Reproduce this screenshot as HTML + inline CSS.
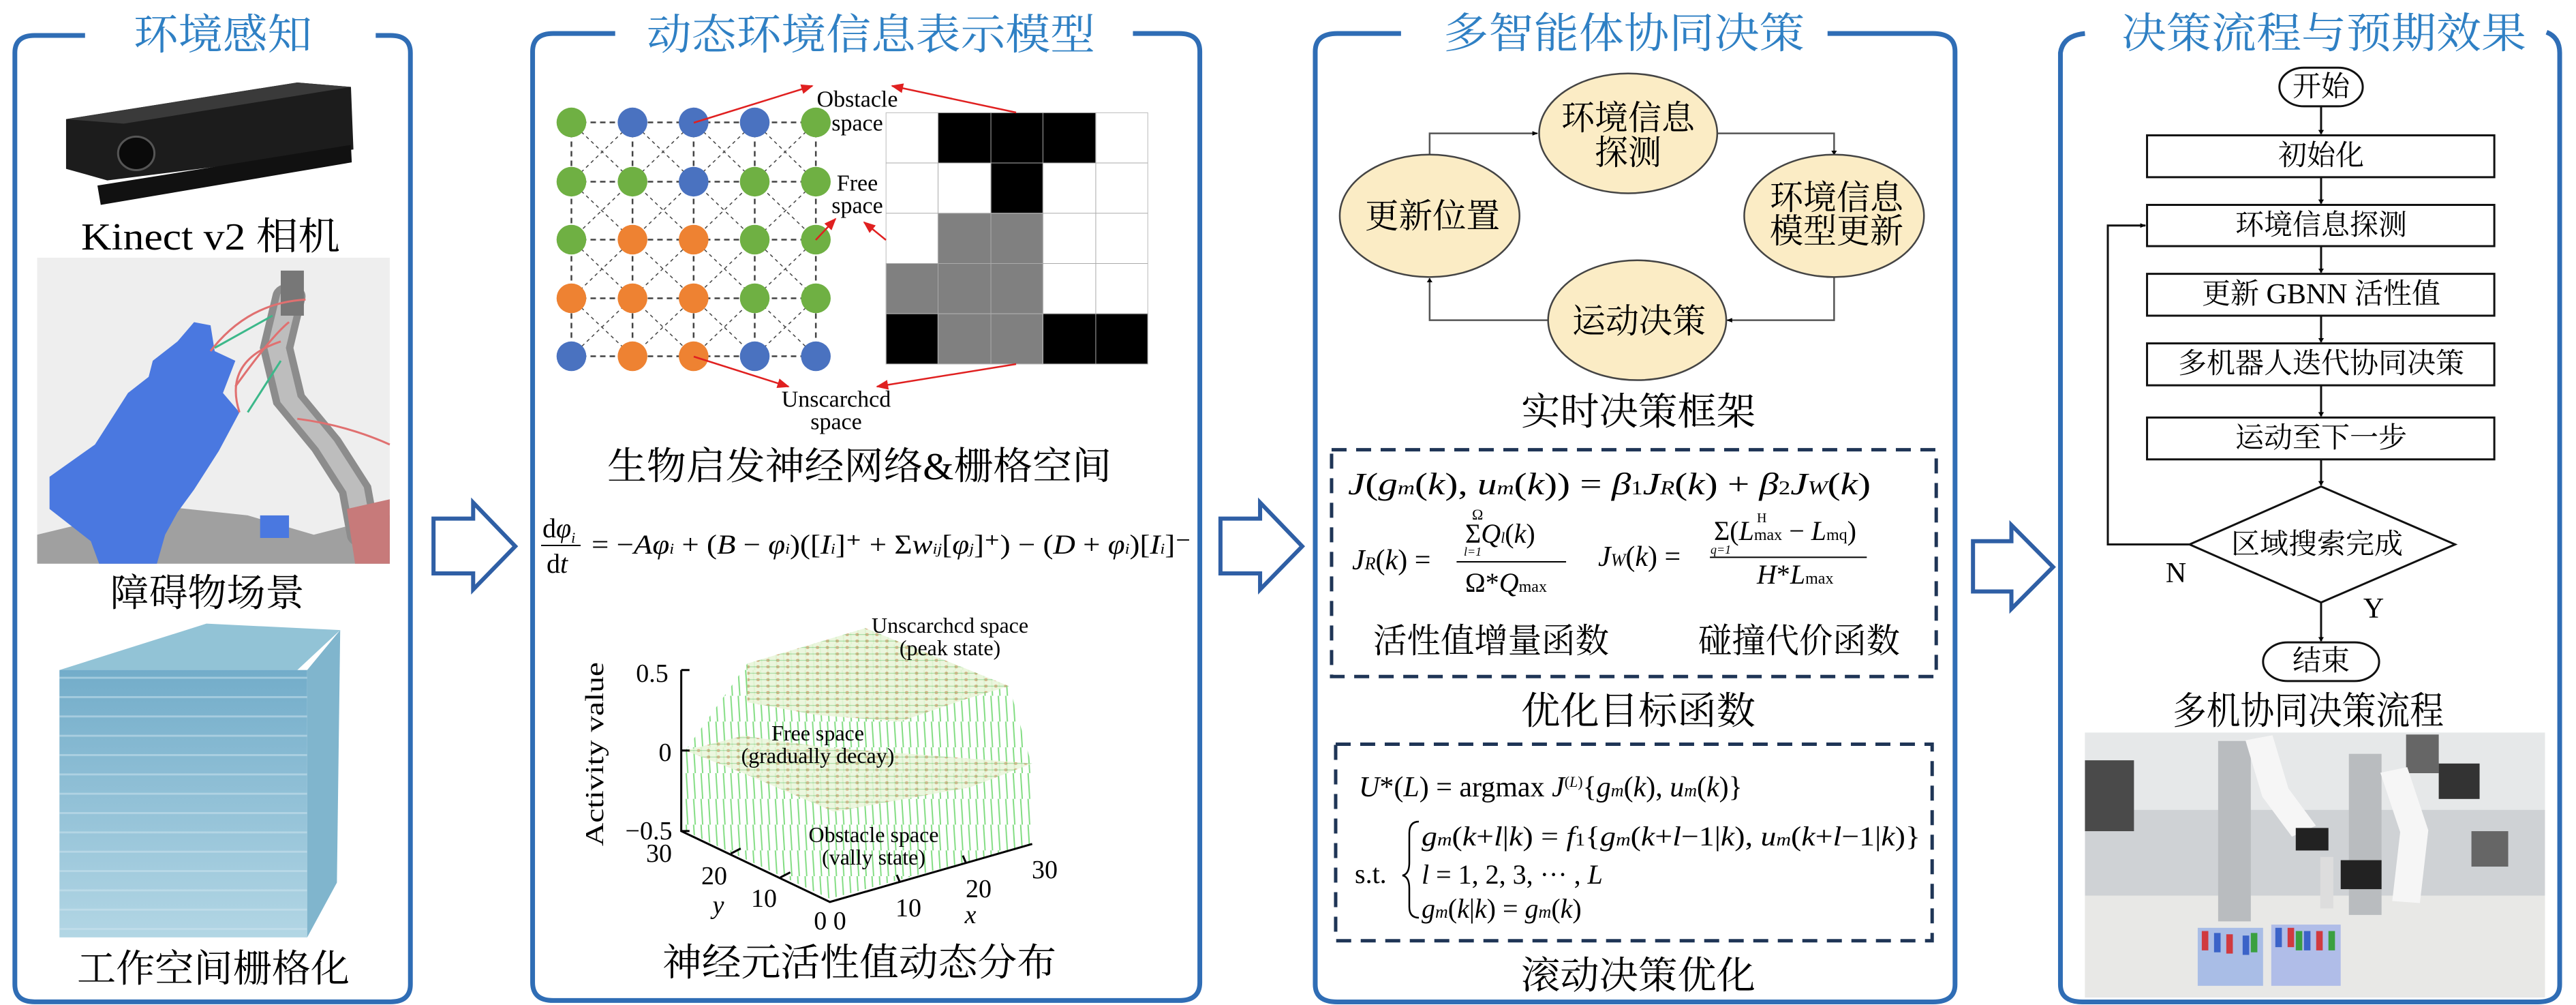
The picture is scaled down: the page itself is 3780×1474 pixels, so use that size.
<!DOCTYPE html>
<html><head><meta charset="utf-8"><style>
html,body{margin:0;padding:0;background:#fff;}
svg{display:block;}
.cn{font-family:"Liberation Serif","Noto Serif CJK SC",serif;}
.t{font-family:"Liberation Serif","Noto Serif CJK SC",serif;fill:#2f80c4;}
.m{font-family:"Liberation Serif",serif;font-style:italic;}
.r{font-family:"Liberation Serif",serif;}
</style></head><body>
<svg width="3780" height="1474" viewBox="0 0 3780 1474" xmlns="http://www.w3.org/2000/svg">
<defs>
<marker id="ab" viewBox="0 0 10 10" refX="9" refY="5" markerWidth="7" markerHeight="7" orient="auto" markerUnits="userSpaceOnUse"><path d="M0,0 L10,5 L0,10 z" fill="#000"/></marker>
<marker id="ar" viewBox="0 0 10 10" refX="9" refY="5" markerWidth="18" markerHeight="18" orient="auto" markerUnits="userSpaceOnUse"><path d="M0,1 L10,5 L0,9 z" fill="#e02020"/></marker>
<pattern id="vl" width="9" height="40" patternUnits="userSpaceOnUse"><line x1="3" y1="0" x2="5" y2="40" stroke="#7fdc7f" stroke-width="1.6"/></pattern>
<pattern id="dots" width="12" height="10" patternUnits="userSpaceOnUse"><rect width="12" height="10" fill="#e9f5d9"/><circle cx="6" cy="5" r="2.2" fill="#d9a070"/><line x1="0" y1="5" x2="12" y2="5" stroke="#8ad08a" stroke-width="1"/></pattern>
<linearGradient id="cube" x1="0" y1="0" x2="0" y2="1"><stop offset="0" stop-color="#5a9ec0"/><stop offset="1" stop-color="#a5cfe0"/></linearGradient>
<pattern id="cstripe" width="20" height="30" patternUnits="userSpaceOnUse"><line x1="0" y1="2" x2="20" y2="2" stroke="#cfe6ef" stroke-width="3" opacity="0.5"/></pattern>
</defs>

<g transform="scale(1.2117,0.9449)">
  <g fill="none" stroke="#2f6db5" stroke-width="7">
    <path vector-effect="non-scaling-stroke" d="M103,55 H42 Q18,55 18,82 V1528 Q18,1555 42,1555 H473 Q497,1555 497,1528 V82 Q497,55 473,55 H455"/>
    <path vector-effect="non-scaling-stroke" d="M745,52 H670 Q645,52 645,80 V1525 Q645,1553 670,1553 H1428 Q1453,1553 1453,1525 V80 Q1453,52 1428,52 H1372"/>
  </g>
  <g fill="#fff" stroke="#2f5fa5" stroke-width="6">
    <polygon vector-effect="non-scaling-stroke" points="525,805 573,805 573,780 624,848 573,915 573,890 525,890"/>
    <polygon vector-effect="non-scaling-stroke" points="1478,805 1526,805 1526,780 1577,848 1526,915 1526,890 1478,890"/>
  </g>
  <polygon points="80,185 360,128 425,135 428,232 130,280 80,262" fill="#1c1c1c"/>
  <polygon points="80,185 360,128 425,135 150,192" fill="#3a3a3a"/>
  <ellipse cx="165" cy="238" rx="22" ry="26" fill="#0a0a0a" stroke="#555" stroke-width="3" vector-effect="non-scaling-stroke"/>
  <polygon points="118,288 425,225 426,252 122,318" fill="#111"/>
  <rect x="45" y="400" width="427" height="475" fill="#eeeeee"/>
  <polygon points="45,830 190,785 300,800 380,830 472,800 472,875 45,875" fill="#a0a0a0"/>
  <polygon points="235,500 255,505 260,545 285,560 270,610 290,640 265,700 235,760 215,795 200,830 190,875 120,875 110,840 60,790 60,740 115,690 140,640 155,610 180,585 185,560 215,530" fill="#4a78e0"/>
  <rect x="315" y="800" width="35" height="35" fill="#4a78e0"/>
  <path d="M350,460 L335,540 L350,620 L395,690 L430,760 L440,830" fill="none" stroke="#8c8c8c" stroke-width="40" stroke-linecap="round"/>
  <path d="M350,460 L335,540 L350,620 L395,690 L430,760 L440,830" fill="none" stroke="#bdbdbd" stroke-width="22" stroke-linecap="round"/>
  <rect x="340" y="420" width="28" height="70" fill="#777"/>
  <polygon points="420,790 472,775 472,875 430,875" fill="#c77a7a"/>
  <path d="M255,545 Q300,470 370,465 M285,600 Q330,520 350,500 M290,640 Q270,560 340,530 M360,650 Q420,660 472,690" fill="none" stroke="#e07070" stroke-width="3" vector-effect="non-scaling-stroke"/>
  <path d="M260,540 L330,490 M300,640 L340,560" fill="none" stroke="#3cb88a" stroke-width="3" vector-effect="non-scaling-stroke"/>
  <polygon points="72,1040 250,968 412,978 360,1040" fill="#86bcd2" opacity="0.9"/>
  <rect x="72" y="1040" width="300" height="415" fill="url(#cube)" opacity="0.85"/>
  <rect x="72" y="1040" width="300" height="415" fill="url(#cstripe)"/>
  <polygon points="372,1040 412,978 408,1370 372,1455" fill="#6aa8c4" opacity="0.85"/>

  <g stroke="#444" stroke-width="2.5" stroke-dasharray="8,6" fill="none">
    <path vector-effect="non-scaling-stroke" d="M692,190H988M692,282H988M692,372H988M692,463H988M692,553H988M692,190V553M766,190V553M840,190V553M914,190V553M988,190V553"/>
  </g>
  <g stroke="#444" stroke-width="1.5" stroke-dasharray="5,5" fill="none">
    <path vector-effect="non-scaling-stroke" d="M692,190L988,553M766,190L988,463M840,190L988,372M914,190L988,282M692,282L914,553M692,372L840,553M692,463L766,553M988,190L692,553M914,190L692,463M840,190L692,372M766,190L692,282M988,282L766,553M988,372L840,553M988,463L914,553"/>
  </g>
  <g>
    <ellipse cx="692" cy="190" rx="18" ry="23" fill="#6fb043"/><ellipse cx="766" cy="190" rx="18" ry="23" fill="#4a72c0"/><ellipse cx="840" cy="190" rx="18" ry="23" fill="#4a72c0"/><ellipse cx="914" cy="190" rx="18" ry="23" fill="#4a72c0"/><ellipse cx="988" cy="190" rx="18" ry="23" fill="#6fb043"/>
    <ellipse cx="692" cy="282" rx="18" ry="23" fill="#6fb043"/><ellipse cx="766" cy="282" rx="18" ry="23" fill="#6fb043"/><ellipse cx="840" cy="282" rx="18" ry="23" fill="#4a72c0"/><ellipse cx="914" cy="282" rx="18" ry="23" fill="#6fb043"/><ellipse cx="988" cy="282" rx="18" ry="23" fill="#6fb043"/>
    <ellipse cx="692" cy="372" rx="18" ry="23" fill="#6fb043"/><ellipse cx="766" cy="372" rx="18" ry="23" fill="#ee8232"/><ellipse cx="840" cy="372" rx="18" ry="23" fill="#ee8232"/><ellipse cx="914" cy="372" rx="18" ry="23" fill="#6fb043"/><ellipse cx="988" cy="372" rx="18" ry="23" fill="#6fb043"/>
    <ellipse cx="692" cy="463" rx="18" ry="23" fill="#ee8232"/><ellipse cx="766" cy="463" rx="18" ry="23" fill="#ee8232"/><ellipse cx="840" cy="463" rx="18" ry="23" fill="#ee8232"/><ellipse cx="914" cy="463" rx="18" ry="23" fill="#6fb043"/><ellipse cx="988" cy="463" rx="18" ry="23" fill="#6fb043"/>
    <ellipse cx="692" cy="553" rx="18" ry="23" fill="#4a72c0"/><ellipse cx="766" cy="553" rx="18" ry="23" fill="#ee8232"/><ellipse cx="840" cy="553" rx="18" ry="23" fill="#ee8232"/><ellipse cx="914" cy="553" rx="18" ry="23" fill="#4a72c0"/><ellipse cx="988" cy="553" rx="18" ry="23" fill="#4a72c0"/>
  </g>
  <g stroke="#bbb" stroke-width="1">
    <rect x="1073" y="175" width="317" height="390" fill="#fff" vector-effect="non-scaling-stroke"/>
    <rect x="1136" y="175" width="191" height="78" fill="#000"/>
    <rect x="1200" y="253" width="63" height="78" fill="#000"/>
    <rect x="1136" y="331" width="127" height="78" fill="#808080"/>
    <rect x="1073" y="409" width="190" height="78" fill="#808080"/>
    <rect x="1073" y="487" width="63" height="78" fill="#000"/>
    <rect x="1136" y="487" width="127" height="78" fill="#808080"/>
    <rect x="1263" y="487" width="127" height="78" fill="#000"/>
    <path d="M1136,175V565M1200,175V565M1263,175V565M1327,175V565M1073,253H1390M1073,331H1390M1073,409H1390M1073,487H1390" stroke="#aaa" fill="none" vector-effect="non-scaling-stroke"/>
  </g>
  <polygon points="830,1165 905,1030 1048,975 1222,1065 1250,1190 1250,1310 1005,1395 830,1290" fill="url(#vl)"/>
  <polygon points="830,1165 900,1142 1000,1160 1250,1185 1175,1222 1010,1260 900,1200" fill="url(#dots)" opacity="0.85"/>
  <polygon points="905,1030 1048,975 1222,1065 1170,1085 1090,1120 990,1110 905,1090" fill="url(#dots)" opacity="0.9"/>
  <g stroke="#000" stroke-width="3" fill="none">
    <path vector-effect="non-scaling-stroke" d="M825,1040V1290L1005,1400L1250,1310"/>
    <path vector-effect="non-scaling-stroke" d="M825,1040h10M825,1165h10M825,1290h10M885,1325l12,-8M945,1362l12,-8M1090,1370l-4,-12M1170,1340l-4,-12"/>
  </g>
</g>

<g transform="translate(1900,0) scale(1.199,0.945)">
  <g fill="none" stroke="#2f6db5" stroke-width="7">
    <path vector-effect="non-scaling-stroke" d="M130,52 H52 Q25,52 25,80 V1528 Q25,1555 52,1555 H781 Q808,1555 808,1528 V80 Q808,52 781,52 H652"/>
    <path vector-effect="non-scaling-stroke" d="M967,52 Q940,55 937,82 V1528 Q937,1555 964,1555 H1521 Q1548,1555 1548,1528 V82 Q1548,58 1532,50"/>
  </g>
  <polygon vector-effect="non-scaling-stroke" points="830,840 877,840 877,815 928,880 877,945 877,918 830,918" fill="#fff" stroke="#2f5fa5" stroke-width="6"/>
  <g fill="none" stroke="#555" stroke-width="2.5">
    <polyline vector-effect="non-scaling-stroke" points="165,240 165,207 297,207" marker-end="url(#ab)"/>
    <polyline vector-effect="non-scaling-stroke" points="517,207 660,207 660,240" marker-end="url(#ab)"/>
    <polyline vector-effect="non-scaling-stroke" points="660,430 660,497 529,497" marker-end="url(#ab)"/>
    <polyline vector-effect="non-scaling-stroke" points="310,497 165,497 165,432" marker-end="url(#ab)"/>
  </g>
  <g fill="#fbecc5" stroke="#444" stroke-width="2.5">
    <ellipse vector-effect="non-scaling-stroke" cx="408" cy="207" rx="109" ry="93"/>
    <ellipse vector-effect="non-scaling-stroke" cx="165" cy="335" rx="110" ry="95"/>
    <ellipse vector-effect="non-scaling-stroke" cx="660" cy="335" rx="110" ry="95"/>
    <ellipse vector-effect="non-scaling-stroke" cx="419" cy="497" rx="109" ry="93"/>
  </g>
  <g fill="none" stroke="#1f3556" stroke-width="5" stroke-dasharray="22,14">
    <rect vector-effect="non-scaling-stroke" x="45" y="698" width="740" height="352"/>
    <rect vector-effect="non-scaling-stroke" x="50" y="1155" width="730" height="305"/>
  </g>
  <line vector-effect="non-scaling-stroke" x1="198" y1="872" x2="332" y2="872" stroke="#000" stroke-width="2"/>
  <line vector-effect="non-scaling-stroke" x1="508" y1="865" x2="700" y2="865" stroke="#000" stroke-width="2"/>
  <g fill="#fff" stroke="#111" stroke-width="3">
    <rect vector-effect="non-scaling-stroke" x="1205" y="105" width="102" height="60" rx="30" ry="30"/>
    <rect vector-effect="non-scaling-stroke" x="1043" y="210" width="425" height="65"/>
    <rect vector-effect="non-scaling-stroke" x="1043" y="318" width="425" height="64"/>
    <rect vector-effect="non-scaling-stroke" x="1043" y="425" width="425" height="65"/>
    <rect vector-effect="non-scaling-stroke" x="1043" y="533" width="425" height="65"/>
    <rect vector-effect="non-scaling-stroke" x="1043" y="648" width="425" height="65"/>
    <polygon vector-effect="non-scaling-stroke" points="1256,755 1420,845 1256,935 1095,845"/>
    <rect vector-effect="non-scaling-stroke" x="1185" y="997" width="142" height="60" rx="30" ry="30"/>
  </g>
  <g stroke="#111" stroke-width="3" fill="none">
    <line vector-effect="non-scaling-stroke" x1="1256" y1="165" x2="1256" y2="208" marker-end="url(#ab)"/>
    <line vector-effect="non-scaling-stroke" x1="1256" y1="275" x2="1256" y2="316" marker-end="url(#ab)"/>
    <line vector-effect="non-scaling-stroke" x1="1256" y1="382" x2="1256" y2="423" marker-end="url(#ab)"/>
    <line vector-effect="non-scaling-stroke" x1="1256" y1="490" x2="1256" y2="531" marker-end="url(#ab)"/>
    <line vector-effect="non-scaling-stroke" x1="1256" y1="598" x2="1256" y2="646" marker-end="url(#ab)"/>
    <line vector-effect="non-scaling-stroke" x1="1256" y1="713" x2="1256" y2="753" marker-end="url(#ab)"/>
    <line vector-effect="non-scaling-stroke" x1="1256" y1="935" x2="1256" y2="995" marker-end="url(#ab)"/>
    <polyline vector-effect="non-scaling-stroke" points="1095,845 995,845 995,350 1041,350" marker-end="url(#ab)"/>
  </g>
  <!-- photo -->
  <rect x="967" y="1137" width="563" height="411" fill="#cfd2d5"/>
  <rect x="967" y="1137" width="563" height="120" fill="#e6e8e9"/>
  <rect x="967" y="1390" width="563" height="158" fill="#e8e8e6"/>
  <rect x="967" y="1180" width="60" height="110" fill="#4a4a4a"/>
  <rect x="1360" y="1140" width="40" height="60" fill="#666"/>
  <rect x="1400" y="1185" width="50" height="55" fill="#333"/>
  <rect x="1440" y="1290" width="45" height="55" fill="#666"/>
  <rect x="1130" y="1150" width="40" height="280" fill="#b9bcbf"/>
  <rect x="1290" y="1170" width="40" height="250" fill="#b9bcbf"/>
  <path d="M1180,1145 L1200,1230 L1235,1290" fill="none" stroke="#f6f6f6" stroke-width="34"/>
  <path d="M1345,1195 L1370,1290 L1360,1400" fill="none" stroke="#f6f6f6" stroke-width="34"/>
  <rect x="1225" y="1285" width="40" height="35" fill="#222"/>
  <rect x="1280" y="1335" width="50" height="45" fill="#222"/>
  <rect x="1255" y="1330" width="16" height="80" fill="#ddd"/>
  <rect x="1105" y="1440" width="80" height="90" fill="#a9bde6"/>
  <rect x="1195" y="1435" width="85" height="95" fill="#b0bde8"/>
  <g fill="#d03a40"><rect x="1110" y="1445" width="8" height="30"/><rect x="1140" y="1450" width="8" height="30"/><rect x="1215" y="1440" width="8" height="30"/><rect x="1250" y="1445" width="8" height="30"/></g>
  <g fill="#3b63c8"><rect x="1125" y="1448" width="8" height="30"/><rect x="1160" y="1452" width="8" height="30"/><rect x="1200" y="1440" width="8" height="30"/><rect x="1235" y="1445" width="8" height="30"/></g>
  <g fill="#3aa040"><rect x="1170" y="1448" width="8" height="30"/><rect x="1225" y="1445" width="8" height="30"/><rect x="1265" y="1445" width="8" height="30"/></g>
</g>

<g stroke="#e02020" stroke-width="2.5" fill="none">
  <line x1="1018" y1="180" x2="1192" y2="126" marker-end="url(#ar)"/>
  <line x1="1491" y1="165" x2="1309" y2="126" marker-end="url(#ar)"/>
  <line x1="1197" y1="352" x2="1226" y2="321" marker-end="url(#ar)"/>
  <line x1="1300" y1="352" x2="1268" y2="326" marker-end="url(#ar)"/>
  <line x1="1018" y1="523" x2="1157" y2="567" marker-end="url(#ar)"/>
  <line x1="1491" y1="534" x2="1287" y2="567" marker-end="url(#ar)"/>
</g>

<g class="t" font-size="62" text-anchor="middle" dominant-baseline="central">
  <text x="327" y="52" textLength="262" lengthAdjust="spacingAndGlyphs">环境感知</text>
  <text x="1278" y="52" textLength="658" lengthAdjust="spacingAndGlyphs">动态环境信息表示模型</text>
  <text x="2383" y="50" textLength="530" lengthAdjust="spacingAndGlyphs">多智能体协同决策</text>
  <text x="3410" y="50" textLength="594" lengthAdjust="spacingAndGlyphs">决策流程与预期效果</text>
</g>

<g class="cn" font-size="56" text-anchor="middle" dominant-baseline="central" fill="#000">
  <text x="309" y="348" textLength="380" lengthAdjust="spacingAndGlyphs">Kinect v2 相机</text>
  <text x="304" y="871" textLength="285" lengthAdjust="spacingAndGlyphs">障碍物场景</text>
  <text x="313" y="1422" textLength="400" lengthAdjust="spacingAndGlyphs">工作空间栅格化</text>
  <text x="1261" y="685" textLength="740" lengthAdjust="spacingAndGlyphs">生物启发神经网络&amp;栅格空间</text>
  <text x="1261" y="1413" textLength="578" lengthAdjust="spacingAndGlyphs">神经元活性值动态分布</text>
  <text x="2404" y="605" textLength="344" lengthAdjust="spacingAndGlyphs">实时决策框架</text>
  <text x="2404" y="1044" textLength="344" lengthAdjust="spacingAndGlyphs">优化目标函数</text>
  <text x="2404" y="1432" textLength="344" lengthAdjust="spacingAndGlyphs">滚动决策优化</text>
  <text x="3387" y="1044" textLength="398" lengthAdjust="spacingAndGlyphs">多机协同决策流程</text>
</g>
<g class="cn" font-size="50" text-anchor="middle" dominant-baseline="central" fill="#000">
  <text x="2188" y="940" textLength="346" lengthAdjust="spacingAndGlyphs">活性值增量函数</text>
  <text x="2640" y="940" textLength="296" lengthAdjust="spacingAndGlyphs">碰撞代价函数</text>
  <text x="2389" y="173" textLength="196" lengthAdjust="spacingAndGlyphs">环境信息</text>
  <text x="2389" y="224" textLength="98" lengthAdjust="spacingAndGlyphs">探测</text>
  <text x="2102" y="317" textLength="198" lengthAdjust="spacingAndGlyphs">更新位置</text>
  <text x="2695" y="290" textLength="196" lengthAdjust="spacingAndGlyphs">环境信息</text>
  <text x="2695" y="339" textLength="196" lengthAdjust="spacingAndGlyphs">模型更新</text>
  <text x="2405" y="471" textLength="196" lengthAdjust="spacingAndGlyphs">运动决策</text>
</g>
<g class="cn" font-size="42" text-anchor="middle" dominant-baseline="central" fill="#000">
  <text x="3406" y="128">开始</text>
  <text x="3406" y="229">初始化</text>
  <text x="3406" y="331">环境信息探测</text>
  <text x="3406" y="432">更新 GBNN 活性值</text>
  <text x="3406" y="534">多机器人迭代协同决策</text>
  <text x="3406" y="643">运动至下一步</text>
  <text x="3400" y="799">区域搜索完成</text>
  <text x="3406" y="970">结束</text>
  <text class="r" x="3193" y="841">N</text>
  <text class="r" x="3483" y="893">Y</text>
</g>

<g class="r" font-size="34" text-anchor="middle" dominant-baseline="central" fill="#000">
  <text x="1258" y="146">Obstacle</text><text x="1258" y="181">space</text>
  <text x="1258" y="269">Free</text><text x="1258" y="302">space</text>
  <text x="1227" y="586">Unscarchcd</text><text x="1227" y="619">space</text>
  <text x="1394" y="917" font-size="32">Unscarchcd space</text><text x="1394" y="950" font-size="32">(peak state)</text>
  <text x="1200" y="1075" font-size="32">Free space</text><text x="1200" y="1108" font-size="32">(gradually decay)</text>
  <text x="1282" y="1224" font-size="32">Obstacle space</text><text x="1282" y="1257" font-size="32">(vally state)</text>
  <text x="957" y="988" font-size="38">0.5</text>
  <text x="976" y="1104" font-size="38">0</text>
  <text x="952" y="1219" font-size="38">−0.5</text>
  <text x="967" y="1252" font-size="38">30</text>
  <text x="1048" y="1285" font-size="38">20</text>
  <text x="1121" y="1318" font-size="38">10</text>
  <text class="m" x="1054" y="1328" font-size="38">y</text>
  <text x="1218" y="1351" font-size="38">0 0</text>
  <text x="1333" y="1332" font-size="38">10</text>
  <text x="1436" y="1304" font-size="38">20</text>
  <text x="1533" y="1276" font-size="38">30</text>
  <text class="m" x="1424" y="1342" font-size="38">x</text>
  <text x="873" y="1106" font-size="38" transform="rotate(-90 873 1106)" textLength="270" lengthAdjust="spacingAndGlyphs">Activity value</text>
</g>

<g fill="#000" font-size="40">
  <text class="r" x="796" y="788">d<tspan class="m">φ</tspan><tspan font-size="22" dy="8" class="m">i</tspan></text>
  <line x1="794" y1="800" x2="852" y2="800" stroke="#000" stroke-width="2"/>
  <text class="r" x="802" y="840">d<tspan class="m">t</tspan></text>
  <text class="r" x="868" y="812" textLength="880" lengthAdjust="spacingAndGlyphs">= −<tspan class="m">Aφ</tspan><tspan font-size="22" class="m">i</tspan> + (<tspan class="m">B</tspan> − <tspan class="m">φ</tspan><tspan font-size="22" class="m">i</tspan>)([<tspan class="m">I</tspan><tspan font-size="22" class="m">i</tspan>]⁺ + Σ<tspan class="m">w</tspan><tspan font-size="22" class="m">ij</tspan>[<tspan class="m">φ</tspan><tspan font-size="22" class="m">j</tspan>]⁺) − (<tspan class="m">D</tspan> + <tspan class="m">φ</tspan><tspan font-size="22" class="m">i</tspan>)[<tspan class="m">I</tspan><tspan font-size="22" class="m">i</tspan>]⁻</text>
</g>

<g fill="#000" class="r">
  <text x="1978" y="725" font-size="46" textLength="767" lengthAdjust="spacingAndGlyphs"><tspan class="m">J</tspan>(<tspan class="m">g</tspan><tspan class="m" font-size="28">m</tspan>(<tspan class="m">k</tspan>), <tspan class="m">u</tspan><tspan class="m" font-size="28">m</tspan>(<tspan class="m">k</tspan>)) = <tspan class="m">β</tspan><tspan font-size="28">1</tspan><tspan class="m">J</tspan><tspan class="m" font-size="28">R</tspan>(<tspan class="m">k</tspan>) + <tspan class="m">β</tspan><tspan font-size="28">2</tspan><tspan class="m">J</tspan><tspan class="m" font-size="28">W</tspan>(<tspan class="m">k</tspan>)</text>
  <text x="1984" y="835" font-size="42"><tspan class="m">J</tspan><tspan class="m" font-size="26">R</tspan>(<tspan class="m">k</tspan>) =</text>
  <text x="2160" y="762" font-size="22">Ω</text>
  <text x="2150" y="796" font-size="40">Σ<tspan class="m">Q</tspan><tspan class="m" font-size="22">l</tspan>(<tspan class="m">k</tspan>)</text>
  <text x="2148" y="815" font-size="18" class="m">l=1</text>
  <text x="2150" y="868" font-size="40">Ω*<tspan class="m">Q</tspan><tspan font-size="24">max</tspan></text>
  <text x="2345" y="830" font-size="42"><tspan class="m">J</tspan><tspan class="m" font-size="26">W</tspan>(<tspan class="m">k</tspan>) =</text>
  <text x="2515" y="792" font-size="40">Σ(<tspan class="m">L</tspan><tspan font-size="24">max</tspan> − <tspan class="m">L</tspan><tspan font-size="24">mq</tspan>)</text>
  <text x="2510" y="812" font-size="18" class="m">q=1</text>
  <text x="2578" y="766" font-size="20">H</text>
  <text x="2578" y="856" font-size="40"><tspan class="m">H</tspan>*<tspan class="m">L</tspan><tspan font-size="24">max</tspan></text>

  <text x="1994" y="1168" font-size="42"><tspan class="m">U</tspan>*(<tspan class="m">L</tspan>) = argmax <tspan class="m">J</tspan><tspan font-size="22" dy="-14">(<tspan class="m">L</tspan>)</tspan><tspan dy="14">{</tspan><tspan class="m">g</tspan><tspan class="m" font-size="26">m</tspan>(<tspan class="m">k</tspan>), <tspan class="m">u</tspan><tspan class="m" font-size="26">m</tspan>(<tspan class="m">k</tspan>)}</text>
  <text x="1988" y="1295" font-size="40">s.t.</text>
  <path d="M2082,1205 Q2068,1205 2068,1222 V1265 Q2068,1282 2058,1284 Q2068,1286 2068,1303 V1330 Q2068,1346 2082,1346" fill="none" stroke="#000" stroke-width="2.5"/>
  <text x="2086" y="1240" font-size="40" textLength="732" lengthAdjust="spacingAndGlyphs"><tspan class="m">g</tspan><tspan class="m" font-size="26">m</tspan>(<tspan class="m">k</tspan>+<tspan class="m">l</tspan>|<tspan class="m">k</tspan>) = <tspan class="m">f</tspan><tspan font-size="26">1</tspan>{<tspan class="m">g</tspan><tspan class="m" font-size="26">m</tspan>(<tspan class="m">k</tspan>+<tspan class="m">l</tspan>−1|<tspan class="m">k</tspan>), <tspan class="m">u</tspan><tspan class="m" font-size="26">m</tspan>(<tspan class="m">k</tspan>+<tspan class="m">l</tspan>−1|<tspan class="m">k</tspan>)}</text>
  <text x="2086" y="1296" font-size="40"><tspan class="m">l</tspan> = 1, 2, 3, ··· , <tspan class="m">L</tspan></text>
  <text x="2086" y="1346" font-size="40"><tspan class="m">g</tspan><tspan class="m" font-size="26">m</tspan>(<tspan class="m">k</tspan>|<tspan class="m">k</tspan>) = <tspan class="m">g</tspan><tspan class="m" font-size="26">m</tspan>(<tspan class="m">k</tspan>)</text>
</g>
</svg>
</body></html>
